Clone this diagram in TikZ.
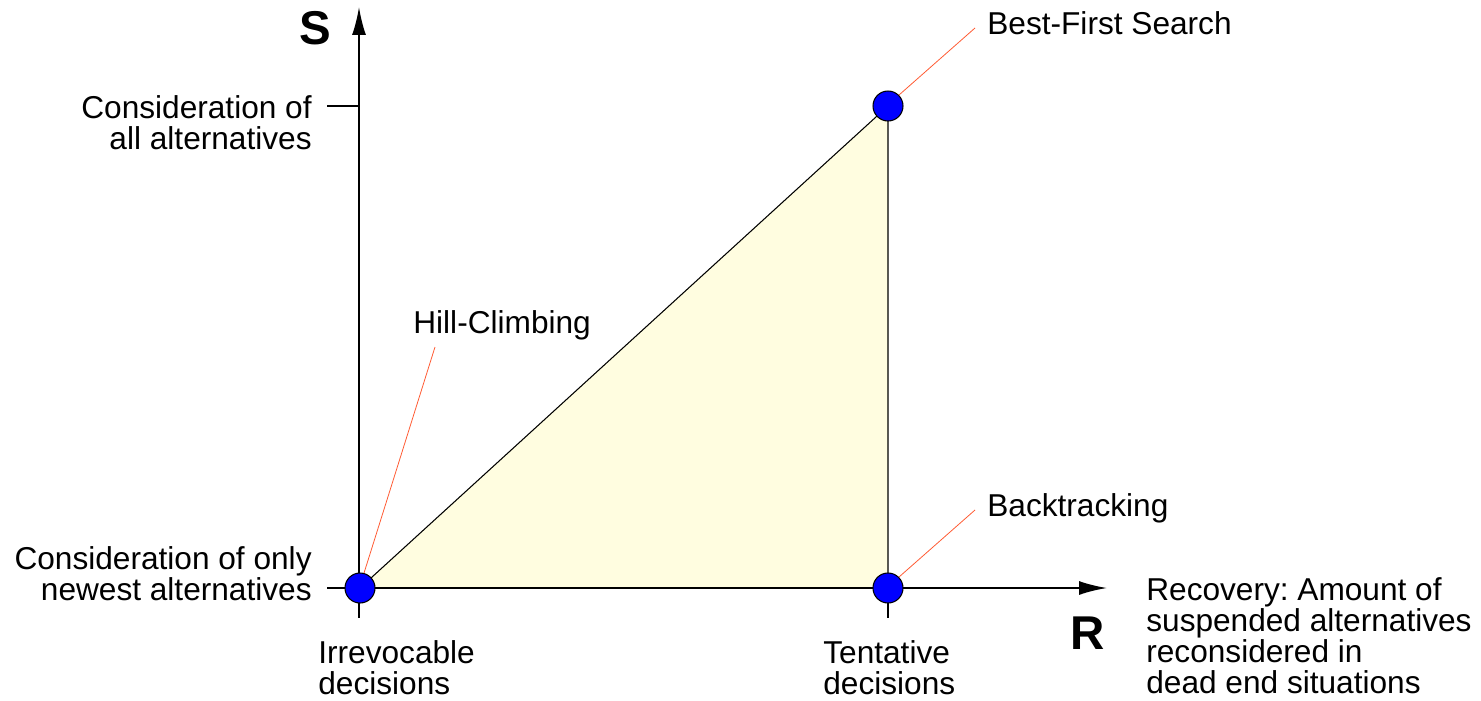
\documentclass[tikz,border=0pt]{standalone}
\usepackage{fontspec}
\setmainfont{Liberation Sans}
\usetikzlibrary{arrows.meta}
\frenchspacing
\begin{document}
\begin{tikzpicture}[x=0.02cm,y=-0.02cm,
  axis/.style={line width=1.1pt},
  tickline/.style={line width=1.1pt},
  edge/.style={line width=0.6pt},
  pointer/.style={draw={rgb,255:red,255;green,90;blue,50},line width=0.45pt},
  dot/.style={circle,draw=black,line width=0.6pt,fill={rgb,255:red,0;green,0;blue,255},minimum size=0.6cm,inner sep=0pt},
  lbl/.style={font=\fontsize{18}{17.6}\selectfont,inner sep=0pt},
  big/.style={font=\fontsize{27}{28}\selectfont\bfseries,inner sep=0pt}]
\useasboundingbox (0,0) rectangle (1481,700);
\coordinate (O) at (359,588);
\coordinate (ytop) at (359,7);
\coordinate (xend) at (1107,588);
\coordinate (ytick) at (327,106);
\coordinate (ytick0) at (327,588);
\coordinate (yt1) at (359,106);
\coordinate (xtick0) at (359,618);
\coordinate (xt1) at (888,588);
\coordinate (xtick1) at (888,618);
% triangle
\fill[fill={rgb,255:red,255;green,253;blue,224}] (360,588) -- (888,588) -- (888,106) -- cycle;
\draw[edge] (360,588) -- (888,106) -- (888,588);
% axes
\draw[axis,-{Latex[length=0.56cm,width=0.28cm]}] (O) -- (ytop);
\draw[axis,-{Latex[length=0.56cm,width=0.28cm]}] (O) -- (xend);
\draw[tickline] (ytick) -- (yt1);
\draw[tickline] (ytick0) -- (O);
\draw[tickline] (O) -- (xtick0);
\draw[tickline] (xt1) -- (xtick1);
% points
\node[dot] (hc) at (360,588) {};
\node[dot] (bt) at (888,588) {};
\node[dot] (bf) at (888,106) {};
% pointer ends
\coordinate (hcl) at (435,347);
\coordinate (btl) at (975,510);
\coordinate (bfl) at (975,28);
\draw[pointer] (hc.75) -- (hcl);
\draw[pointer] (bt.45) -- (btl);
\draw[pointer] (bf.45) -- (bfl);
% labels
\node[big] (S) at (315,28) {S};
\node[big] (R) at (1088,633) {R};
\node[lbl,anchor=base west] (bfn) at (987,34) {Best-First Search};
\node[lbl,anchor=base west] (btn) at (987,516) {Backtracking};
\node[lbl,anchor=base west] (hcn) at (413,333) {Hill-Climbing};
\node[lbl,anchor=north east,align=right] (ya) at (312,95) {Consideration of\\all alternatives};
\node[lbl,anchor=north east,align=right] (yb) at (312,546) {Consideration of only\\newest alternatives};
\node[lbl,anchor=north west,align=left] (xa) at (318,640) {Irrevocable\\decisions};
\node[lbl,anchor=north west,align=left] (xb) at (823,640) {Tentative\\decisions};
\node[lbl,anchor=north west,align=left] (xr) at (1146,577) {Recovery: Amount of\\suspended alternatives\\reconsidered in\\dead end situations};
\end{tikzpicture}
\end{document}
